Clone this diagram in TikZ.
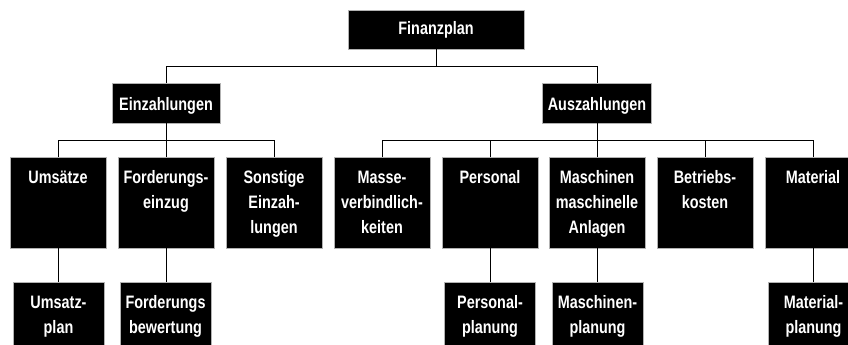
\documentclass[tikz,border=0pt]{standalone}
\usepackage{fontspec}
\setmainfont[FakeStretch=0.8]{Liberation Sans}
\begin{document}
\begin{tikzpicture}[x=1pt,y=-1pt,
  box/.style={fill=black, draw=gray!60, line width=0.8pt, inner sep=0pt},
  bigbox/.style={box, minimum width=96, minimum height=91},
  lowbox/.style={box, minimum width=91, minimum height=80},
  lbl/.style={text=white, font=\bfseries\fontsize{18}{25}\selectfont, align=center, anchor=base, inner sep=0pt},
  con/.style={draw=black, line width=0.9pt}]
\fill[white] (0,0) rectangle (848,345);
\useasboundingbox (0,0) rectangle (848,345);
\clip (0,0) rectangle (848,345);
% level 0
\node[box, minimum width=176, minimum height=39] (fin) at (436,29.5) {};
\node[lbl] (fint) at (436,35) {Finanzplan};
% level 1
\node[box, minimum width=108, minimum height=40] (ein) at (166,103) {};
\node[lbl] (eint) at (166,110) {Einzahlungen};
\node[box, minimum width=109, minimum height=40] (aus) at (597,103) {};
\node[lbl] (aust) at (597,110) {Auszahlungen};
% level 2 (base anchor = last line's baseline)
\node[bigbox] (ums) at (58,202.5) {};
\node[lbl] (umst) at (58,183) {Umsätze};
\node[bigbox] (ford) at (166,202.5) {};
\node[lbl] (fordt) at (166,208) {Forderungs-\\einzug};
\node[bigbox] (sons) at (274,202.5) {};
\node[lbl] (sonst) at (274,233) {Sonstige\\Einzah-\\lungen};
\node[bigbox] (mass) at (382,202.5) {};
\node[lbl] (masst) at (382,233) {Masse-\\verbindlich-\\keiten};
\node[bigbox] (pers) at (490,202.5) {};
\node[lbl] (perst) at (490,183) {Personal};
\node[bigbox] (masch) at (597,202.5) {};
\node[lbl] (mascht) at (597,233) {Maschinen\\maschinelle\\Anlagen};
\node[bigbox] (betr) at (705,202.5) {};
\node[lbl] (betrt) at (705,208) {Betriebs-\\kosten};
\node[bigbox] (mat) at (813,202.5) {};
\node[lbl] (matt) at (813,183) {Material};
% level 3
\node[lowbox] (umsp) at (58.5,322) {};
\node[lbl] (umspt) at (58.5,333) {Umsatz-\\plan};
\node[lowbox] (fordb) at (165.5,322) {};
\node[lbl] (fordbt) at (165.5,333) {Forderungs\\bewertung};
\node[lowbox] (persp) at (490,322) {};
\node[lbl] (perspt) at (490,333) {Personal-\\planung};
\node[lowbox] (maschp) at (597.5,322) {};
\node[lbl] (maschpt) at (597.5,333) {Maschinen-\\planung};
\node[lowbox] (matp) at (813.5,322) {};
\node[lbl] (matpt) at (813.5,333) {Material-\\planung};
% connectors
\coordinate (b0) at (436,66.7);
\coordinate (b1) at (166,140);
\coordinate (b2) at (597,140);
\draw[con] (fin.south) -- (b0);
\draw[con] (b0) -| (ein.north);
\draw[con] (b0) -| (aus.north);
\draw[con] (ein.south) -- (b1);
\draw[con] (b1) -| (ums.north);
\draw[con] (b1) -- (ford.north);
\draw[con] (b1) -| (sons.north);
\draw[con] (aus.south) -- (b2);
\draw[con] (b2) -| (mass.north);
\draw[con] (b2) -| (pers.north);
\draw[con] (b2) -- (masch.north);
\draw[con] (b2) -| (betr.north);
\draw[con] (b2) -| (mat.north);
\draw[con] (ums.south) -- (ums.south |- umsp.north);
\draw[con] (ford.south) -- (ford.south |- fordb.north);
\draw[con] (pers.south) -- (persp.north);
\draw[con] (masch.south) -- (masch.south |- maschp.north);
\draw[con] (mat.south) -- (mat.south |- matp.north);
\end{tikzpicture}
\end{document}
